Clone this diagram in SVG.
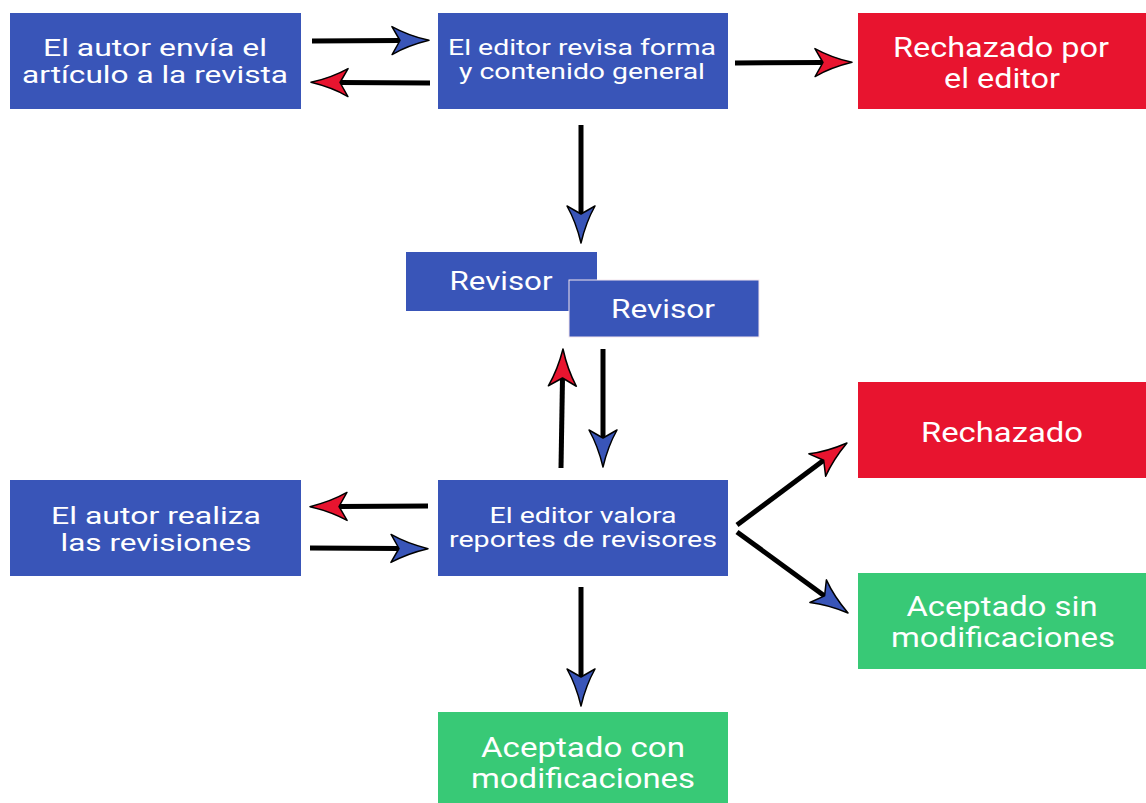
<svg xmlns="http://www.w3.org/2000/svg" width="1146" height="803" viewBox="0 0 1146 803">
<style>
.blue{fill:#3955B8}
.red{fill:#E8142F}
.green{fill:#38C976}
text{font-family:Roboto,"Liberation Sans",sans-serif;fill:#FFFFFF;text-anchor:middle;dominant-baseline:central}
.t22{font-size:22px}
.t23{font-size:23px}
.t24{font-size:24px}
.t25{font-size:25px}
.t28{font-size:28px}
.ln{stroke:#000;stroke-width:5;fill:none}
.lr{marker-end:url(#hr)}
.lb{marker-end:url(#hb)}
</style>
<defs>
<marker id="hb" markerUnits="userSpaceOnUse" viewBox="-2 -16 42 32" markerWidth="42" markerHeight="32" refX="8" refY="0" orient="auto">
<path d="M37,0 Q16,-5 0,-14 L8,0 L0,14 Q16,5 37,0 Z" fill="#3955B8" stroke="#000" stroke-width="1.5" stroke-linejoin="round"/>
</marker>
<marker id="hr" markerUnits="userSpaceOnUse" viewBox="-2 -16 42 32" markerWidth="42" markerHeight="32" refX="8" refY="0" orient="auto">
<path d="M37,0 Q16,-5 0,-14 L8,0 L0,14 Q16,5 37,0 Z" fill="#E8142F" stroke="#000" stroke-width="1.5" stroke-linejoin="round"/>
</marker>
</defs>
<rect width="1146" height="803" fill="#FFFFFF"/>
<g id="n1"><rect class="blue" x="10" y="13" width="291" height="96"/><text class="t24" x="155" y="48" textLength="224" lengthAdjust="spacingAndGlyphs">El autor envía el</text><text class="t24" x="155" y="75" textLength="266" lengthAdjust="spacingAndGlyphs">artículo a la revista</text></g>
<g id="n2"><rect class="blue" x="438" y="13" width="290" height="96"/><text class="t22" x="582" y="47" textLength="268" lengthAdjust="spacingAndGlyphs">El editor revisa forma</text><text class="t22" x="582" y="71" textLength="246" lengthAdjust="spacingAndGlyphs">y contenido general</text></g>
<g id="n3"><rect class="red" x="858" y="13" width="288" height="96"/><text class="t28" x="1001" y="47" textLength="216" lengthAdjust="spacingAndGlyphs">Rechazado por</text><text class="t28" x="1002" y="78" textLength="116" lengthAdjust="spacingAndGlyphs">el editor</text></g>
<g id="n4"><rect class="blue" x="406" y="252" width="191" height="59"/><text class="t25" x="501" y="281" textLength="103" lengthAdjust="spacingAndGlyphs">Revisor</text></g>
<g id="n5"><rect class="blue" x="569" y="280" width="190" height="57" stroke="#F3E6EE" stroke-width="1"/><text class="t25" x="663" y="309" textLength="104" lengthAdjust="spacingAndGlyphs">Revisor</text></g>
<g id="n6"><rect class="blue" x="438" y="480" width="290" height="96"/><text class="t22" x="583" y="515" textLength="187" lengthAdjust="spacingAndGlyphs">El editor valora</text><text class="t22" x="583" y="539" textLength="268" lengthAdjust="spacingAndGlyphs">reportes de revisores</text></g>
<g id="n7"><rect class="blue" x="10" y="480" width="291" height="96"/><text class="t23" x="156" y="516" textLength="210" lengthAdjust="spacingAndGlyphs">El autor realiza</text><text class="t23" x="156" y="543" textLength="191" lengthAdjust="spacingAndGlyphs">las revisiones</text></g>
<g id="n8"><rect class="red" x="858" y="382" width="288" height="96"/><text class="t28" x="1002" y="432" textLength="162" lengthAdjust="spacingAndGlyphs">Rechazado</text></g>
<g id="n9"><rect class="green" x="858" y="573" width="288" height="96"/><text class="t28" x="1002" y="606" textLength="191" lengthAdjust="spacingAndGlyphs">Aceptado sin</text><text class="t28" x="1003" y="637" textLength="224" lengthAdjust="spacingAndGlyphs">modificaciones</text></g>
<g id="n10"><rect class="green" x="438" y="712" width="290" height="91"/><text class="t28" x="583" y="747" textLength="204" lengthAdjust="spacingAndGlyphs">Aceptado con</text><text class="t28" x="583" y="778" textLength="224" lengthAdjust="spacingAndGlyphs">modificaciones</text></g>
<g id="connectors">
<line class="ln lb" x1="312" y1="41" x2="400" y2="40.5"/>
<line class="ln lr" x1="430" y1="83" x2="340" y2="82.5"/>
<line class="ln lr" x1="735" y1="63" x2="823" y2="62.5"/>
<line class="ln lb" x1="581" y1="125" x2="581" y2="214"/>
<line class="ln lr" x1="561" y1="468" x2="562.5" y2="378"/>
<line class="ln lb" x1="603" y1="349" x2="603" y2="438"/>
<line class="ln lr" x1="428" y1="506" x2="339" y2="506.5"/>
<line class="ln lb" x1="310" y1="548" x2="399" y2="548.5"/>
<line class="ln lr" x1="737" y1="525" x2="823.7" y2="460.3"/>
<line class="ln lb" x1="737" y1="532" x2="824.6" y2="595.9"/>
<line class="ln lb" x1="581" y1="587" x2="581" y2="677"/>
</g>
</svg>
